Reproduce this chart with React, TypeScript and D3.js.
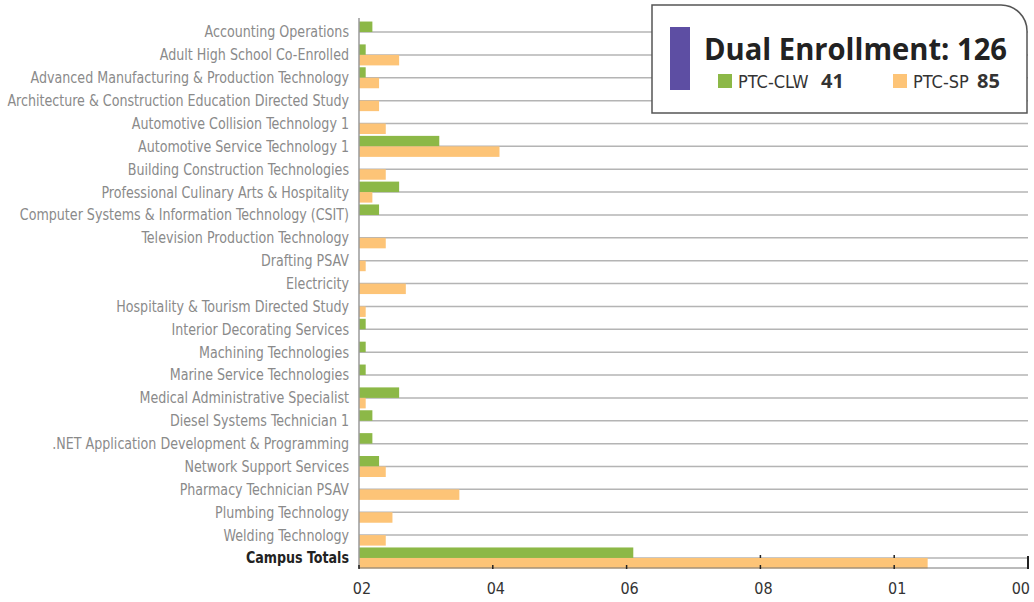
import React, { useEffect, useRef } from 'react';
import * as d3 from 'd3';

const programs: string[] = [
  'Accounting Operations',
  'Adult High School Co-Enrolled',
  'Advanced Manufacturing & Production Technology',
  'Architecture & Construction Education Directed Study',
  'Automotive Collision Technology 1',
  'Automotive Service Technology 1',
  'Building Construction Technologies',
  'Professional Culinary Arts & Hospitality',
  'Computer Systems & Information Technology (CSIT)',
  'Television Production Technology',
  'Drafting PSAV',
  'Electricity',
  'Hospitality & Tourism Directed Study',
  'Interior Decorating Services',
  'Machining Technologies',
  'Marine Service Technologies',
  'Medical Administrative Specialist',
  'Diesel Systems Technician 1',
  '.NET Application Development & Programming',
  'Network Support Services',
  'Pharmacy Technician PSAV',
  'Plumbing Technology',
  'Welding Technology',
  'Campus Totals',
];
const clw: number[] = [2, 1, 1, 0, 0, 12, 0, 6, 3, 0, 0, 0, 0, 1, 1, 1, 6, 2, 2, 3, 0, 0, 0, 41];
const sp: number[] = [0, 6, 3, 3, 4, 21, 4, 2, 0, 4, 1, 7, 1, 0, 0, 0, 1, 0, 0, 4, 15, 5, 4, 85];
const tickValues: number[] = [0, 20, 40, 60, 80, 100];
const tickLabels: string[] = ['02', '04', '06', '08', '01', '00'];
const title = 'Dual Enrollment: 126';
const legendItems = [
  { name: 'PTC-CLW', total: '41', color: '#8cb847' },
  { name: 'PTC-SP', total: '85', color: '#fdc477' },
];

const W = 1034;
const H = 602;
const LABEL_FONT = "'Liberation Sans Narrow', 'DejaVu Sans Condensed', sans-serif";

export default function App() {
  const ref = useRef<SVGSVGElement>(null);

  useEffect(() => {
    const svg = d3.select(ref.current);
    svg.selectAll('*').remove();

    const x = d3.scaleLinear().domain([0, 100]).range([359, 1028]);
    const y = d3.scaleBand<string>().domain(programs).range([20.6, 569.4]);
    const mid = (p: string) => (y(p) as number) + y.bandwidth() / 2;
    const barH = 10.5;

    // grid lines
    svg.append('g')
      .selectAll('line')
      .data(programs)
      .enter()
      .append('line')
      .attr('x1', x(0))
      .attr('x2', x(100))
      .attr('y1', d => mid(d))
      .attr('y2', d => mid(d))
      .attr('stroke', '#b4b4b4')
      .attr('stroke-width', 1.5);

    // bars
    svg.append('g')
      .selectAll('rect')
      .data(programs)
      .enter()
      .append('rect')
      .attr('x', x(0))
      .attr('y', d => mid(d) - barH)
      .attr('width', (d, i) => x(clw[i]) - x(0))
      .attr('height', barH)
      .attr('fill', legendItems[0].color);
    svg.append('g')
      .selectAll('rect')
      .data(programs)
      .enter()
      .append('rect')
      .attr('x', x(0))
      .attr('y', d => mid(d))
      .attr('width', (d, i) => x(sp[i]) - x(0))
      .attr('height', barH)
      .attr('fill', legendItems[1].color);

    // category labels (squeezed horizontally for the condensed look)
    svg.append('g')
      .selectAll('text')
      .data(programs)
      .enter()
      .append('text')
      .attr('transform', d => `translate(349,${mid(d)}) scale(0.91,1)`)
      .attr('dy', '0.35em')
      .attr('text-anchor', 'end')
      .attr('font-family', LABEL_FONT)
      .attr('font-size', 15.5)
      .attr('font-weight', d => (d === 'Campus Totals' ? 700 : 400))
      .attr('fill', d => (d === 'Campus Totals' ? '#222' : '#8a8a8a'))
      .text(d => d);

    // left axis line
    svg.append('line')
      .attr('x1', x(0)).attr('x2', x(0))
      .attr('y1', 18).attr('y2', 568)
      .attr('stroke', '#9a9a9a').attr('stroke-width', 1.5);

    // bottom axis
    const axisY = 568;
    const axis = svg.append('g').attr('transform', `translate(0,${axisY})`);
    axis.append('line')
      .attr('x1', x(0)).attr('x2', x(100))
      .attr('stroke', '#777').attr('stroke-width', 1);
    axis.selectAll('line.tk')
      .data(tickValues)
      .enter()
      .append('line')
      .attr('class', 'tk')
      .attr('x1', d => x(d)).attr('x2', d => x(d))
      .attr('y1', d => (d === 100 ? -12 : -3)).attr('y2', 1)
      .attr('stroke', '#222').attr('stroke-width', d => (d === 100 ? 2 : 1.5));
    axis.selectAll('line.tk2')
      .data(tickValues.filter(d => d > 40 && d < 100))
      .enter()
      .append('line')
      .attr('x1', d => x(d)).attr('x2', d => x(d))
      .attr('y1', -13).attr('y2', -10)
      .attr('stroke', '#222').attr('stroke-width', 1.5);
    axis.selectAll('text')
      .data(tickValues)
      .enter()
      .append('text')
      .attr('x', d => (d === 100 ? x(d) + 2 : x(d) + 3))
      .attr('y', 26)
      .attr('text-anchor', d => (d === 100 ? 'end' : 'middle'))
      .attr('font-family', LABEL_FONT)
      .attr('font-size', 16)
      .attr('fill', '#333')
      .text((d, i) => tickLabels[i]);

    // legend box
    const lg = svg.append('g');
    const bx = 652, by = 5, bw = 375, bh = 108, r = 26;
    lg.append('path')
      .attr('d', `M${bx},${by} H${bx + bw - r} A${r},${r} 0 0 1 ${bx + bw},${by + r} V${by + bh} H${bx} Z`)
      .attr('fill', '#fff')
      .attr('stroke', '#555')
      .attr('stroke-width', 1.5);
    lg.append('rect')
      .attr('x', 670).attr('y', 27).attr('width', 20).attr('height', 63)
      .attr('fill', '#5d4ea3');
    lg.append('text')
      .attr('x', 704).attr('y', 60)
      .attr('font-family', "'Open Sans', 'DejaVu Sans', sans-serif")
      .attr('font-weight', 700)
      .attr('font-size', 30)
      .attr('fill', '#222')
      .attr('textLength', 303)
      .attr('lengthAdjust', 'spacingAndGlyphs')
      .text(title);
    const lx = [718, 893];
    const item = lg.selectAll('g.item')
      .data(legendItems)
      .enter()
      .append('g')
      .attr('transform', (d, i) => `translate(${lx[i]},0)`);
    item.append('rect')
      .attr('x', 0).attr('y', 74).attr('width', 14).attr('height', 14)
      .attr('fill', d => d.color);
    item.append('text')
      .attr('x', 20).attr('y', 88)
      .attr('font-family', LABEL_FONT)
      .attr('font-size', 18)
      .attr('fill', '#333')
      .text(d => d.name);
    item.append('text')
      .attr('x', (d, i) => (i === 0 ? 103 : 84)).attr('y', 88)
      .attr('font-family', "'Open Sans', 'DejaVu Sans', sans-serif")
      .attr('font-weight', 700)
      .attr('font-size', 20)
      .attr('fill', '#333')
      .text(d => d.total);
  }, []);

  return (
    <svg
      ref={ref}
      width={W}
      height={H}
      style={{ position: 'absolute', left: 0, top: 0, background: '#fff' }}
    />
  );
}
